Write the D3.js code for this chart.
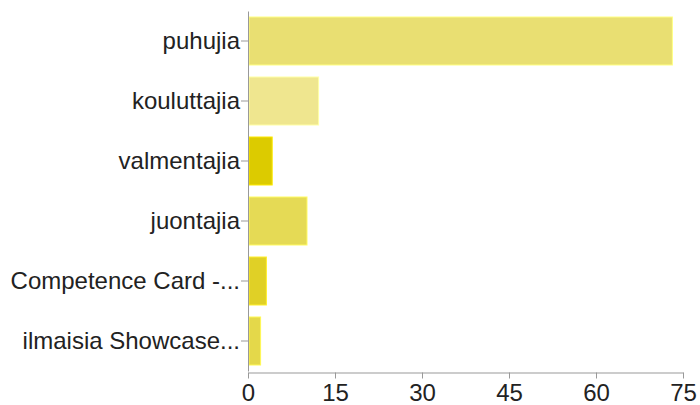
<!DOCTYPE html>
<html>
<head>
<meta charset="utf-8">
<script src="https://cdn.jsdelivr.net/npm/d3@7"></script>
<style>
	body {margin:0; background:#fff;}
	svg text {font-family:"Liberation Sans", Arial, sans-serif; fill:#222;}
</style>
</head>
<body>
<svg id="chart"></svg>
<script>
/*************** data *****************/
var categories = ["puhujia","kouluttajia","valmentajia","juontajia","Competence Card -...","ilmaisia Showcase..."];
var values = [73,12,4,10,3,2];
var barColors = ["#e9df72","#efe68f","#dccb00","#e5da55","#e0d026","#e4d84a"];
var xTicks = [0,15,30,45,60,75];

/*************** settings *****************/
var width = 700,
	height = 405,
	margin = {top:11, right:17, bottom:33, left:248};

var svg = d3.select("#chart")
	.attr("width",width)
	.attr("height",height);

var g = svg.append("g")
	.attr("transform","translate("+margin.left+","+margin.top+")");

/*************** scales *****************/
var xScale = d3.scaleLinear()
	.domain([0,75])
	.range([0,435]);

var yScale = d3.scaleBand()
	.domain(categories)
	.range([0,360])
	.paddingInner(0.2)
	.paddingOuter(0.1);

/*************** bars *****************/
g.selectAll("rect.bar")
	.data(categories)
	.enter()
	.append("rect")
		.attr("class","bar")
		.attr("x",1)
		.attr("y",function(d){return yScale(d);})
		.attr("width",function(d,i){return xScale(values[i]);})
		.attr("height",yScale.bandwidth())
		.attr("fill",function(d,i){return barColors[i];})
		.attr("stroke",function(d,i){return d3.color(barColors[i]).brighter(0.4);})
		.attr("stroke-width",1);

/*************** axes *****************/
var yAxis = g.append("g")
	.call(d3.axisLeft(yScale).tickSize(7).tickPadding(1).tickSizeOuter(0));

yAxis.selectAll("text")
	.style("font-size","24px");

var xAxis = g.append("g")
	.attr("transform","translate(0,361.5)")
	.call(d3.axisBottom(xScale).tickValues(xTicks).tickSize(6).tickPadding(5).tickSizeOuter(0));

xAxis.selectAll("text")
	.style("font-size","24px");

svg.selectAll(".domain, .tick line")
	.attr("stroke","#999");
</script>
</body>
</html>
